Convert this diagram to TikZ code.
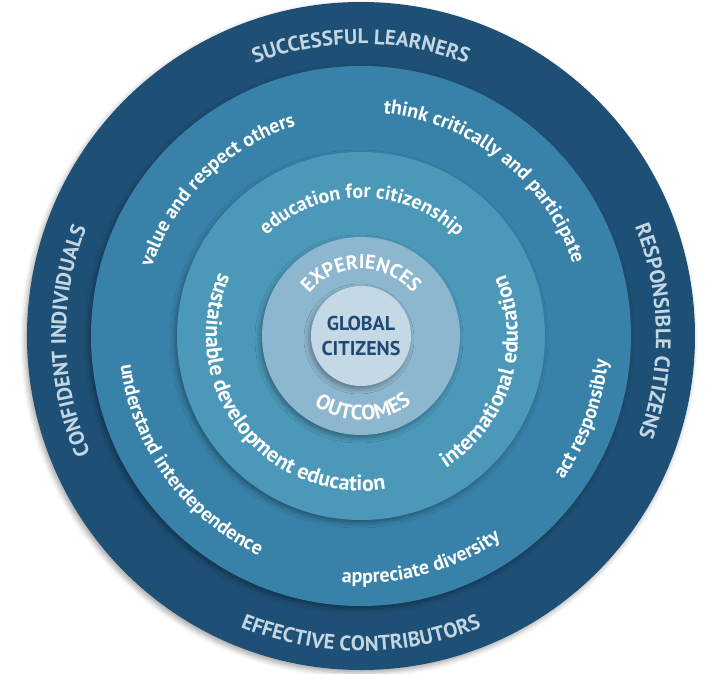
\documentclass[tikz,border=0pt]{standalone}
\usepackage{fontspec}
\setmainfont{PT Sans}
\usetikzlibrary{decorations.text,shadows.blur}

\definecolor{ringOut}{HTML}{1E4F75}
\definecolor{ringTwo}{HTML}{3882A9}
\definecolor{ringThree}{HTML}{4B98B9}
\definecolor{ringFour}{HTML}{8DB6CF}
\definecolor{ringCore}{HTML}{C5D8E5}
\definecolor{capText}{HTML}{C3D6E4}
\definecolor{coreText}{HTML}{1F4A73}

%% text set along an arc: radius, start, end, colour, text
\newcommand{\ArcText}[5]{%
  \path[decorate, decoration={text along path, text align=center,
    text color=#4, text={#5}}]
    (#2:#1) arc[start angle=#2, end angle=#3, radius=#1];}

\newcommand{\capfont}{\fontsize{21}{21}\selectfont\bfseries}
\newcommand{\midfont}{\fontsize{20}{20}\selectfont\bfseries}
\newcommand{\lowfont}{\fontsize{20}{20}\selectfont\bfseries}
\newcommand{\bigfont}{\fontsize{22}{22}\selectfont\bfseries}

\begin{document}
\begin{tikzpicture}[
    ring/.style={circle, inner sep=0pt, draw=none, minimum size=2*#1,
      blur shadow={shadow xshift=-2pt, shadow yshift=-3pt,
        shadow blur radius=5pt, shadow opacity=35}}
  ]

  \useasboundingbox (-361pt,-337pt) rectangle (344pt,336pt);

  %% the five discs, outside in
  \node[ring=334pt, fill=ringOut]   (outer) at (0,0) {};
  \node[ring=270pt, fill=ringTwo]   (two)   at (0,0) {};
  \node[ring=184pt, fill=ringThree] (three) at (0,0) {};
  \node[ring=99pt,  fill=ringFour]  (four)  at (0,0) {};
  \node[ring=50pt,  fill=ringCore]  (core)  at (0,0) {};

  \node[text=coreText, align=center, font=\fontsize{20}{25}\selectfont\bfseries]
    (global) at (0,0) {GLOBAL\\CITIZENS};

  %% outer ring
  \ArcText{292pt}{150}{30}{capText}{|\capfont|SUCCESSFUL LEARNERS}
  \ArcText{315pt}{210}{330}{capText}{|\capfont|EFFECTIVE CONTRIBUTORS}
  \ArcText{295pt}{241}{121}{capText}{|\capfont|CONFIDENT INDIVIDUALS}
  \ArcText{295pt}{61}{-59}{capText}{|\capfont|RESPONSIBLE CITIZENS}

  %% second ring
  \ArcText{220pt}{214.5}{54.5}{white}{|\lowfont|value and respect others}
  \ArcText{224pt}{131.5}{-28.5}{white}{|\lowfont|think critically and participate}
  \ArcText{242pt}{136}{296}{white}{|\lowfont|understand interdependence}
  \ArcText{247pt}{215}{355}{white}{|\lowfont|appreciate diversity}
  \ArcText{248pt}{289.5}{389.5}{white}{|\lowfont|act responsibly}

  %% third ring
  \ArcText{138pt}{199.5}{-20.5}{white}{|\lowfont|education for citizenship}
  \ArcText{155pt}{117.5}{317.5}{white}{|\bigfont|sustainable development education}
  \ArcText{157pt}{263}{423}{white}{|\bigfont|international education}

  %% fourth ring
  \ArcText{67pt}{180}{0}{white}{|\midfont|EXPERIENCES}
  \ArcText{84pt}{181.5}{361.5}{white}{|\fontsize{21}{21}\selectfont\bfseries|OUTCOMES}

\end{tikzpicture}
\end{document}
